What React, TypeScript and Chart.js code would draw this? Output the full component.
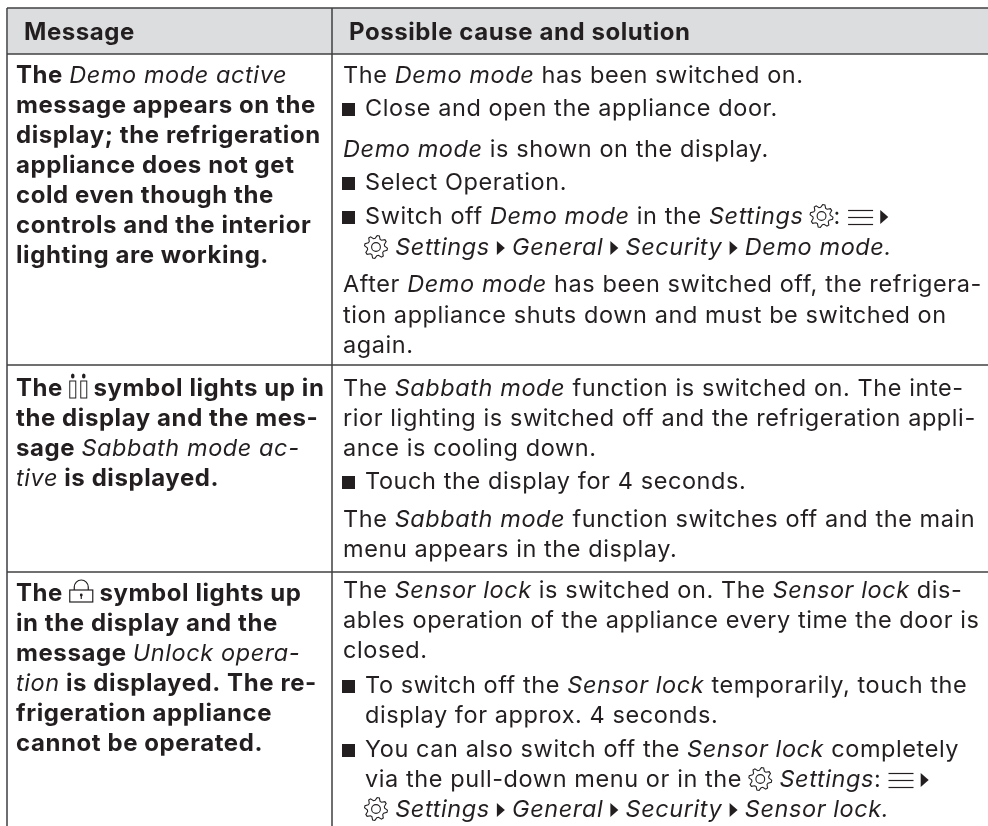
import React, { useEffect, useRef } from "react";
import { Chart, registerables } from "chart.js";

Chart.register(...registerables);

const WIDTH = 988;
const HEIGHT = 826;

const headerLabels = ["Message", "Possible cause and solution"];

const messageLines = [
  "The *Demo mode active*",
  "message appears on the",
  "display; the refrigeration",
  "appliance does not get",
  "cold even though the",
  "controls and the interior",
  "lighting are working.",
  "The {candle} symbol lights up in",
  "the display and the mes-",
  "sage *Sabbath mode ac-*",
  "*tive* is displayed.",
  "The {lock} symbol lights up",
  "in the display and the",
  "message *Unlock opera-*",
  "*tion* is displayed. The re-",
  "frigeration appliance",
  "cannot be operated.",
];
const messageBaselines = [83, 113, 143, 173, 203, 233, 263, 396, 426, 456, 486, 601, 631, 661, 691, 721, 751];

const causeLines = [
  "The *Demo mode* has been switched on.",
  "{sq}Close and open the appliance door.",
  "*Demo mode* is shown on the display.",
  "{sq}Select Operation.",
  "{sq}Switch off *Demo mode* in the *Settings* {gear}: {menu} {arrow}",
  "{in}{gear} *Settings* {arrow} *General* {arrow} *Security* {arrow} *Demo mode.*",
  "After *Demo mode* has been switched off, the refrigera-",
  "tion appliance shuts down and must be switched on",
  "again.",
  "The *Sabbath mode* function is switched on. The inte-",
  "rior lighting is switched off and the refrigeration appli-",
  "ance is cooling down.",
  "{sq}Touch the display for 4 seconds.",
  "The *Sabbath mode* function switches off and the main",
  "menu appears in the display.",
  "The *Sensor lock* is switched on. The *Sensor lock* dis-",
  "ables operation of the appliance every time the door is",
  "closed.",
  "{sq}To switch off the *Sensor lock* temporarily, touch the",
  "{in}display for approx. 4 seconds.",
  "{sq}You can also switch off the *Sensor lock* completely",
  "{in}via the pull-down menu or in the {gear} *Settings*: {menu} {arrow}",
  "{in}{gear} *Settings* {arrow} *General* {arrow} *Security* {arrow} *Sensor lock.*",
];
const causeBaselines = [83, 116, 157, 190, 224, 255, 292, 323, 353, 396, 426, 456, 489, 527, 557, 598, 628, 658, 693, 723, 757, 787, 817];

const horizontalRules = [8, 54, 365, 572];
const verticalRules = [7, 332];
const headerBand = [8, 54];

const INK = "#231f20";
const RULE = "#414042";
const EDGE = "#6d6e71";
const FAMILY = "Inter";
const REG_SIZE = 23.5;
const BOLD_SIZE = 24;
const TRACKING = "0.58px";

function gear(ctx: CanvasRenderingContext2D, x: number, y: number) {
  const cx = x + 11, cy = y - 8;
  ctx.save();
  ctx.strokeStyle = INK;
  ctx.lineWidth = 1.1;
  ctx.beginPath();
  for (let i = 0; i < 32; i++) {
    const a = (i / 32) * Math.PI * 2;
    const r = Math.floor(i / 2) % 2 === 0 ? 11.5 : 8.7;
    const px = cx + Math.cos(a + 0.1) * r, py = cy + Math.sin(a + 0.1) * r;
    if (i) ctx.lineTo(px, py); else ctx.moveTo(px, py);
  }
  ctx.closePath();
  ctx.stroke();
  ctx.beginPath();
  ctx.arc(cx, cy, 4.4, 0, Math.PI * 2);
  ctx.stroke();
  ctx.restore();
}

function menu(ctx: CanvasRenderingContext2D, x: number, y: number) {
  ctx.save();
  ctx.strokeStyle = INK;
  ctx.lineWidth = 1.2;
  [-14, -7, 0].forEach((d) => {
    ctx.beginPath();
    ctx.moveTo(x, y + d + 0.5);
    ctx.lineTo(x + 25, y + d + 0.5);
    ctx.stroke();
  });
  ctx.restore();
}

function arrow(ctx: CanvasRenderingContext2D, x: number, y: number) {
  ctx.save();
  ctx.fillStyle = INK;
  ctx.beginPath();
  ctx.moveTo(x, y - 14);
  ctx.lineTo(x + 8, y - 7);
  ctx.lineTo(x, y);
  ctx.closePath();
  ctx.fill();
  ctx.restore();
}

function square(ctx: CanvasRenderingContext2D, x: number, y: number) {
  ctx.save();
  ctx.fillStyle = INK;
  ctx.fillRect(x, y - 13, 13, 13);
  ctx.restore();
}

function lock(ctx: CanvasRenderingContext2D, x: number, y: number) {
  ctx.save();
  ctx.strokeStyle = INK;
  ctx.lineWidth = 1.2;
  ctx.strokeRect(x + 0.5, y - 11, 23, 12);
  ctx.beginPath();
  ctx.moveTo(x + 5, y - 11);
  ctx.lineTo(x + 5, y - 14);
  ctx.arc(x + 12, y - 14, 7, Math.PI, 0);
  ctx.lineTo(x + 19, y - 11);
  ctx.stroke();
  ctx.beginPath();
  ctx.moveTo(x + 12, y - 6);
  ctx.lineTo(x + 12, y - 2);
  ctx.stroke();
  ctx.beginPath();
  ctx.arc(x + 12, y - 6, 1.4, 0, Math.PI * 2);
  ctx.fillStyle = INK;
  ctx.fill();
  ctx.restore();
}

function candle(ctx: CanvasRenderingContext2D, x: number, y: number) {
  ctx.save();
  ctx.strokeStyle = INK;
  ctx.fillStyle = INK;
  ctx.lineWidth = 1;
  [0, 11].forEach((d) => {
    ctx.strokeRect(x + d + 0.5, y - 15, 6, 17);
    ctx.beginPath();
    ctx.ellipse(x + d + 3.5, y - 20, 1.8, 2.6, 0, 0, Math.PI * 2);
    ctx.fill();
  });
  ctx.restore();
}

const iconWidths: Record<string, number> = { gear: 23, menu: 25, arrow: 8, lock: 24, candle: 18 };
const iconDraw: Record<string, (c: CanvasRenderingContext2D, x: number, y: number) => void> = { gear, menu, arrow, lock, candle };

function drawLine(
  ctx: CanvasRenderingContext2D,
  line: string,
  x0: number,
  y: number,
  bold: boolean,
  indent: number,
) {
  let x = x0;
  const parts = line.split(/(\*[^*]+\*|\{\w+\})/).filter(Boolean);
  parts.forEach((p) => {
    if (p === "{sq}") {
      square(ctx, x0 - 1, y);
      x = x0 + indent;
    } else if (p === "{in}") {
      x = x0 + indent;
    } else if (p.startsWith("{")) {
      const name = p.slice(1, -1);
      iconDraw[name](ctx, x, y);
      x += iconWidths[name];
    } else {
      const italic = p.startsWith("*");
      const t = italic ? p.slice(1, -1) : p;
      ctx.font = italic
        ? `italic 400 ${REG_SIZE}px ${FAMILY}`
        : bold
          ? `650 ${BOLD_SIZE}px ${FAMILY}`
          : `400 ${REG_SIZE}px ${FAMILY}`;
      ctx.letterSpacing = TRACKING;
      ctx.fillStyle = INK;
      ctx.fillText(t, x, y);
      x += ctx.measureText(t).width;
    }
  });
}

const tablePlugin = {
  id: "tableText",
  afterDatasetsDraw(chart: any) {
    const { ctx, scales } = chart;
    const px = (v: number) => scales.x.getPixelForValue(v);
    const py = (v: number) => scales.y.getPixelForValue(v);
    ctx.save();
    ctx.textBaseline = "alphabetic";
    ctx.textAlign = "left";
    ctx.font = `650 ${BOLD_SIZE}px ${FAMILY}`;
    ctx.letterSpacing = TRACKING;
    ctx.fillStyle = INK;
    ctx.fillText(headerLabels[0], px(24), py(40));
    ctx.fillText(headerLabels[1], px(349), py(40));
    messageLines.forEach((l, i) => drawLine(ctx, l, px(16), py(messageBaselines[i]), true, 0));
    causeLines.forEach((l, i) => drawLine(ctx, l, px(343), py(causeBaselines[i]), false, 22));
    ctx.restore();
  },
};

export default function App() {
  const ref = useRef<HTMLCanvasElement>(null);
  useEffect(() => {
    const rule = (data: { x: number; y: number }[], width: number, color: string) => ({
      type: "scatter" as const,
      data,
      showLine: true,
      borderColor: color,
      borderWidth: width,
      pointRadius: 0,
      fill: false,
      order: 1,
    });
    const chart = new Chart(ref.current as HTMLCanvasElement, {
      type: "scatter",
      data: {
        datasets: [
          {
            data: [
              { x: verticalRules[0], y: headerBand[0] },
              { x: WIDTH, y: headerBand[0] },
            ],
            showLine: true,
            pointRadius: 0,
            borderWidth: 0,
            backgroundColor: "#dcddde",
            fill: { value: headerBand[1] },
            order: 2,
          } as any,
          ...horizontalRules.map((y) =>
            rule(
              [
                { x: verticalRules[0], y },
                { x: WIDTH, y },
              ],
              1.5,
              RULE,
            ),
          ),
          ...verticalRules.map((x, i) =>
            rule(
              [
                { x, y: headerBand[0] },
                { x, y: HEIGHT },
              ],
              i === 0 ? 2 : 1.5,
              i === 0 ? EDGE : RULE,
            ),
          ),
        ],
      },
      options: {
        animation: false,
        responsive: false,
        maintainAspectRatio: false,
        layout: { padding: 0 },
        plugins: { legend: { display: false }, tooltip: { enabled: false } },
        scales: {
          x: { type: "linear", display: false, min: 0, max: WIDTH },
          y: { type: "linear", display: false, min: 0, max: HEIGHT, reverse: true },
        },
      },
      plugins: [tablePlugin],
    } as any);
    return () => chart.destroy();
  }, []);
  return (
    <canvas
      ref={ref}
      width={WIDTH}
      height={HEIGHT}
      style={{ position: "absolute", left: 0, top: 0, display: "block", background: "#fff" }}
    />
  );
}
